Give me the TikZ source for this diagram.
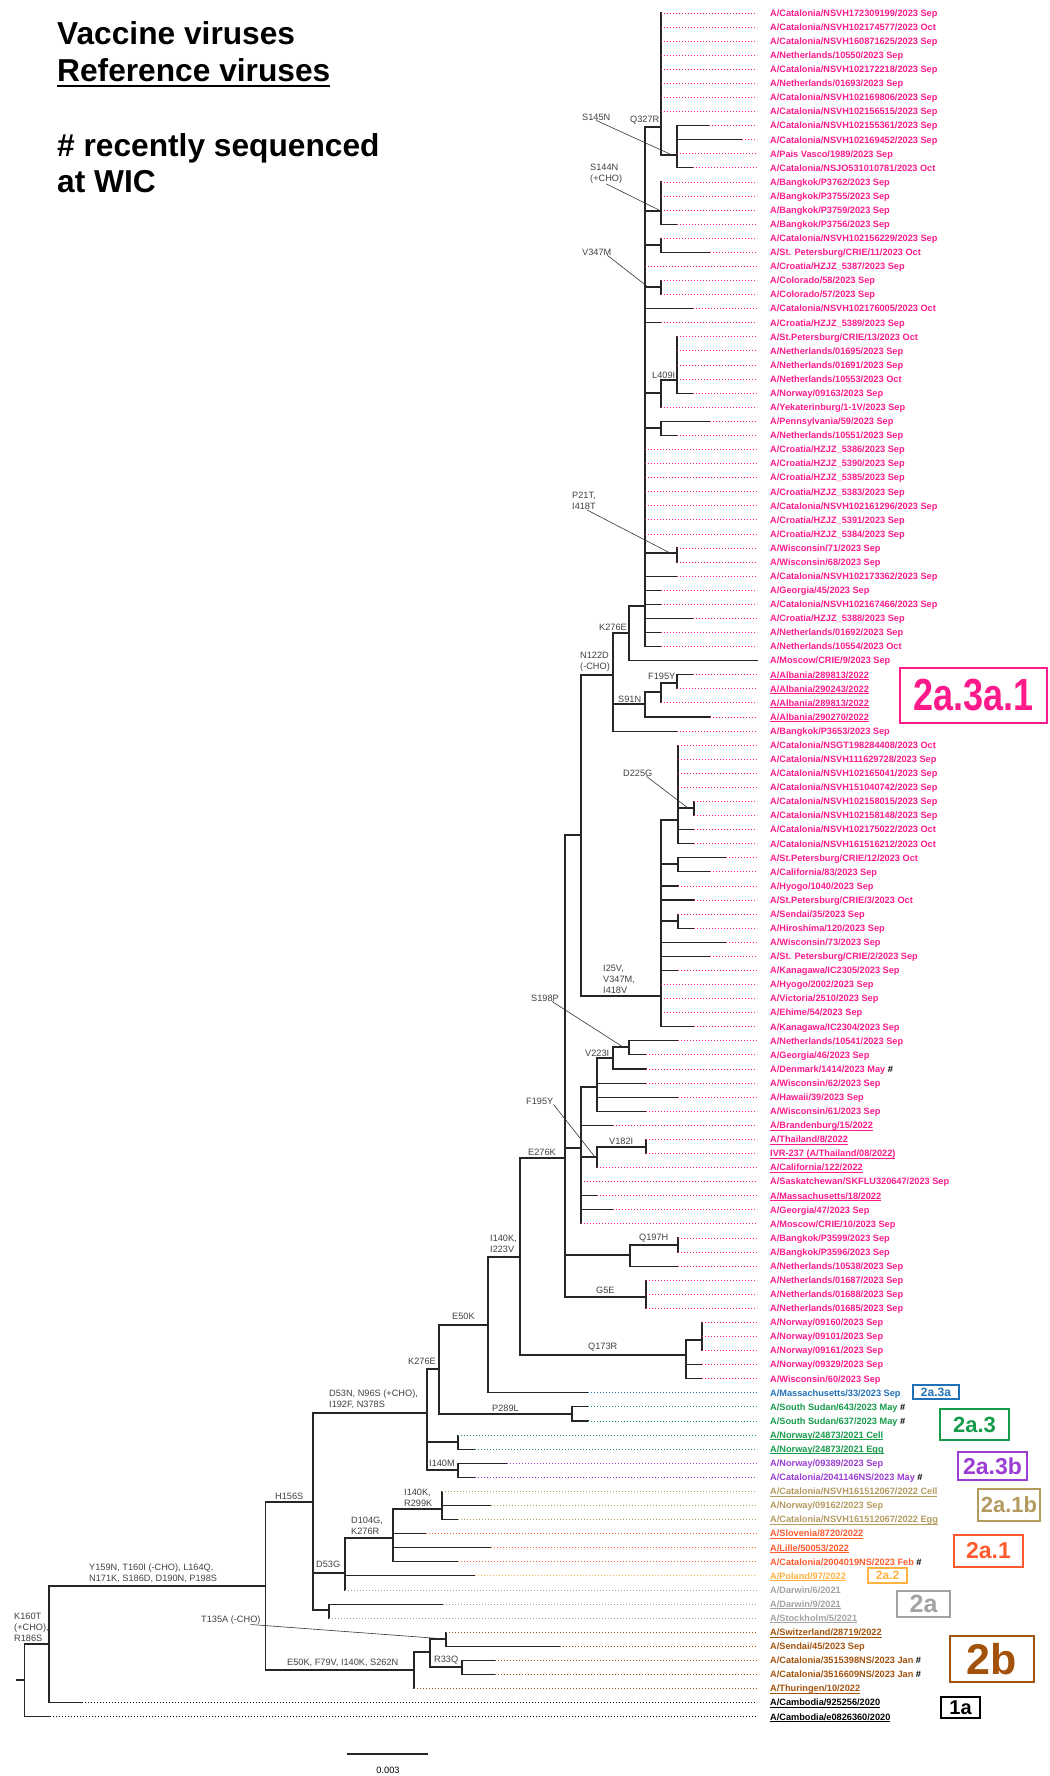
\documentclass[tikz,border=0pt]{standalone}
\usepackage{fontspec}
\usepackage{graphicx}
\setmainfont{Liberation Sans}

\definecolor{pinkc}{HTML}{FF1A8C}
\definecolor{bluec}{HTML}{2271B8}
\definecolor{greenc}{HTML}{169B4B}
\definecolor{purplec}{HTML}{9B3CD2}
\definecolor{tanc}{HTML}{B49A5F}
\definecolor{orangec}{HTML}{FF5A2D}
\definecolor{yellowc}{HTML}{FFB23F}
\definecolor{grayc}{HTML}{A2A2A2}
\definecolor{brownc}{HTML}{A3520C}

\tikzset{
  branch/.style={line width=1.1pt,black!85,line cap=rect},
  tipdots/.style={line width=0.9pt,dash pattern=on 0.9pt off 2.1pt},
  leader/.style={line width=0.6pt,black!80},
  leaf/.style={font=\fontsize{9.2}{9.2}\selectfont\bfseries,inner sep=0pt,anchor=base west},
  mut/.style={font=\fontsize{9.2}{11}\selectfont,text=black!75,inner sep=0pt,anchor=west,align=left},
  title/.style={font=\fontsize{31.7}{32}\selectfont\bfseries,inner sep=0pt,anchor=base west},
  clade/.style={draw,line width=2pt,inner sep=0pt,font=\bfseries},
  cpk/.style={color=pinkc}, cbl/.style={color=bluec}, cgn/.style={color=greenc},
  cpu/.style={color=purplec}, ctn/.style={color=tanc}, cor/.style={color=orangec},
  cyl/.style={color=yellowc}, cgy/.style={color=grayc}, cbr/.style={color=brownc},
  cbk/.style={color=black}
}

\newcommand\refv[1]{\setbox0\hbox{#1}\rlap{\copy0}\rule[-1.8pt]{\wd0}{0.8pt}}
\newcommand\titleul[1]{\setbox0\hbox{#1}\rlap{\copy0}\rule[-5.5pt]{\wd0}{2pt}}
\newcommand\wic{\textcolor{black}{\#}}
\newcommand\lf[5]{%
  \node[leaf,#4] (l#1) at (770,{13+(#1-1)*14.08+3.3}) {#5};
  \coordinate (t#1) at (#3,{13+(#1-1)*14.08});
  \draw[branch] (#2) |- (t#1);
  \draw[tipdots,#4] (t#1) -- ([xshift=-13pt,yshift=3.3pt]l#1.base west);
}

\begin{document}
\begin{tikzpicture}[x=1pt,y=-1pt]
\useasboundingbox (0,0) rectangle (1049,1776);

\node[title] (tVac) at (57,45) {Vaccine viruses};
\node[title] (tRef) at (57,82) {\titleul{Reference viruses}};
\node[title] (tRec) at (57,157) {\# recently sequenced};
\node[title] (tWic) at (57,193) {at WIC};

\coordinate (nStub) at (17,1680);
\coordinate (nRoot) at (24.5,1680);
\coordinate (nK160T) at (49,1644);
\coordinate (nB) at (265.6,1586);
\coordinate (nH156S) at (313,1502);
\coordinate (n2b) at (414,1670);
\coordinate (n2bA) at (430,1652);
\coordinate (nSw) at (446,1639);
\coordinate (nR33Q) at (462,1667);
\coordinate (n2a) at (329,1610);
\coordinate (nD53G) at (345,1573);
\coordinate (nD104G) at (393,1538);
\coordinate (nI140Kb) at (442,1509);
\coordinate (nD) at (427,1413);
\coordinate (nNor) at (458,1442);
\coordinate (nI140M) at (458,1470);
\coordinate (nE) at (439,1369);
\coordinate (nSS) at (572,1414);
\coordinate (nE50K) at (488,1325);
\coordinate (nI140K) at (520,1257);
\coordinate (nQ173R) at (686,1355);
\coordinate (nQ173a) at (702,1340);
\coordinate (nE276K) at (565,1158);
\coordinate (nG5E) at (646,1297);
\coordinate (nQ197) at (630,1255);
\coordinate (nQ197H) at (678,1245);
\coordinate (nR) at (581,1148);
\coordinate (nT) at (597,1087);
\coordinate (nV223I) at (613,1058);
\coordinate (nS198P) at (629,1047);
\coordinate (nF195Yb) at (597,1157);
\coordinate (nV182I) at (646,1147);
\coordinate (nN122Dp) at (581,835);
\coordinate (nI25V) at (661,996);
\coordinate (nD225Gp) at (678,820);
\coordinate (nD225G) at (694,808);
\coordinate (nB61) at (678,864);
\coordinate (nB65) at (678,921);
\coordinate (nN122D) at (613,675);
\coordinate (nS91N) at (645,704);
\coordinate (nF195Yp) at (661,692);
\coordinate (nF195Y) at (677,683);
\coordinate (nK276Eb) at (629,633);
\coordinate (nP) at (645,606);
\coordinate (nQ327R) at (661,127);
\coordinate (nS145N) at (677,155);
\coordinate (nS144N) at (661,211);
\coordinate (nB17) at (661,245);
\coordinate (nV347M) at (661,287);
\coordinate (nL409Ip) at (661,393);
\coordinate (nL409I) at (677,380);
\coordinate (nB30) at (661,428);
\coordinate (nP21T) at (677,553);

\draw[branch] (nStub) -- (nRoot);
\draw[branch] (nRoot) |- (nK160T);
\draw[branch] (nK160T) |- (nB);
\draw[branch] (nB) |- (nH156S);
\draw[branch] (nB) |- (n2b);
\draw[branch] (n2b) |- (n2bA);
\draw[branch] (n2bA) |- (nSw);
\draw[branch] (n2bA) |- (nR33Q);
\draw[branch] (nH156S) |- (nD);
\draw[branch] (nH156S) |- (nD53G);
\draw[branch] (nH156S) |- (n2a);
\draw[branch] (nD53G) |- (nD104G);
\draw[branch] (nD104G) |- (nI140Kb);
\draw[branch] (nD) |- (nE);
\draw[branch] (nD) |- (nNor);
\draw[branch] (nD) |- (nI140M);
\draw[branch] (nE) |- (nE50K);
\draw[branch] (nE) |- (nSS);
\draw[branch] (nE50K) |- (nI140K);
\draw[branch] (nI140K) |- (nE276K);
\draw[branch] (nI140K) |- (nQ173R);
\draw[branch] (nQ173R) |- (nQ173a);
\draw[branch] (nE276K) |- (nN122Dp);
\draw[branch] (nE276K) |- (nR);
\draw[branch] (nE276K) |- (nQ197);
\draw[branch] (nE276K) |- (nG5E);
\draw[branch] (nQ197) |- (nQ197H);
\draw[branch] (nR) |- (nT);
\draw[branch] (nR) |- (nF195Yb);
\draw[branch] (nT) |- (nV223I);
\draw[branch] (nV223I) |- (nS198P);
\draw[branch] (nF195Yb) |- (nV182I);
\draw[branch] (nN122Dp) |- (nN122D);
\draw[branch] (nN122Dp) |- (nI25V);
\draw[branch] (nI25V) |- (nD225Gp);
\draw[branch] (nI25V) |- (nB61);
\draw[branch] (nI25V) |- (nB65);
\draw[branch] (nD225Gp) |- (nD225G);
\draw[branch] (nN122D) |- (nK276Eb);
\draw[branch] (nN122D) |- (nS91N);
\draw[branch] (nS91N) |- (nF195Yp);
\draw[branch] (nF195Yp) |- (nF195Y);
\draw[branch] (nK276Eb) |- (nP);
\draw[branch] (nP) |- (nQ327R);
\draw[branch] (nP) |- (nS144N);
\draw[branch] (nP) |- (nB17);
\draw[branch] (nP) |- (nV347M);
\draw[branch] (nP) |- (nL409Ip);
\draw[branch] (nP) |- (nB30);
\draw[branch] (nP) |- (nP21T);
\draw[branch] (nQ327R) |- (nS145N);
\draw[branch] (nL409Ip) |- (nL409I);

\lf{1}{nQ327R}{661}{cpk}{A/Catalonia/NSVH172309199/2023 Sep}
\lf{2}{nQ327R}{661}{cpk}{A/Catalonia/NSVH102174577/2023 Oct}
\lf{3}{nQ327R}{661}{cpk}{A/Catalonia/NSVH160871625/2023 Sep}
\lf{4}{nQ327R}{661}{cpk}{A/Netherlands/10550/2023 Sep}
\lf{5}{nQ327R}{661}{cpk}{A/Catalonia/NSVH102172218/2023 Sep}
\lf{6}{nQ327R}{661}{cpk}{A/Netherlands/01693/2023 Sep}
\lf{7}{nQ327R}{661}{cpk}{A/Catalonia/NSVH102169806/2023 Sep}
\lf{8}{nQ327R}{661}{cpk}{A/Catalonia/NSVH102156515/2023 Sep}
\lf{9}{nS145N}{709}{cpk}{A/Catalonia/NSVH102155361/2023 Sep}
\lf{10}{nS145N}{742}{cpk}{A/Catalonia/NSVH102169452/2023 Sep}
\lf{11}{nS145N}{677}{cpk}{A/Pais Vasco/1989/2023 Sep}
\lf{12}{nS145N}{693}{cpk}{A/Catalonia/NSJO531010781/2023 Oct}
\lf{13}{nS144N}{661}{cpk}{A/Bangkok/P3762/2023 Sep}
\lf{14}{nS144N}{661}{cpk}{A/Bangkok/P3755/2023 Sep}
\lf{15}{nS144N}{661}{cpk}{A/Bangkok/P3759/2023 Sep}
\lf{16}{nS144N}{677}{cpk}{A/Bangkok/P3756/2023 Sep}
\lf{17}{nB17}{661}{cpk}{A/Catalonia/NSVH102156229/2023 Sep}
\lf{18}{nB17}{710}{cpk}{A/St. Petersburg/CRIE/11/2023 Oct}
\lf{19}{nP}{645}{cpk}{A/Croatia/HZJZ\_5387/2023 Sep}
\lf{20}{nV347M}{661}{cpk}{A/Colorado/58/2023 Sep}
\lf{21}{nV347M}{661}{cpk}{A/Colorado/57/2023 Sep}
\lf{22}{nP}{693}{cpk}{A/Catalonia/NSVH102176005/2023 Oct}
\lf{23}{nP}{661}{cpk}{A/Croatia/HZJZ\_5389/2023 Sep}
\lf{24}{nL409I}{677}{cpk}{A/St.Petersburg/CRIE/13/2023 Oct}
\lf{25}{nL409I}{677}{cpk}{A/Netherlands/01695/2023 Sep}
\lf{26}{nL409I}{677}{cpk}{A/Netherlands/01691/2023 Sep}
\lf{27}{nL409I}{677}{cpk}{A/Netherlands/10553/2023 Oct}
\lf{28}{nL409I}{693}{cpk}{A/Norway/09163/2023 Sep}
\lf{29}{nL409Ip}{661}{cpk}{A/Yekaterinburg/1-1V/2023 Sep}
\lf{30}{nB30}{710}{cpk}{A/Pennsylvania/59/2023 Sep}
\lf{31}{nB30}{677}{cpk}{A/Netherlands/10551/2023 Sep}
\lf{32}{nP}{645}{cpk}{A/Croatia/HZJZ\_5386/2023 Sep}
\lf{33}{nP}{645}{cpk}{A/Croatia/HZJZ\_5390/2023 Sep}
\lf{34}{nP}{645}{cpk}{A/Croatia/HZJZ\_5385/2023 Sep}
\lf{35}{nP}{645}{cpk}{A/Croatia/HZJZ\_5383/2023 Sep}
\lf{36}{nP}{645}{cpk}{A/Catalonia/NSVH102161296/2023 Sep}
\lf{37}{nP}{645}{cpk}{A/Croatia/HZJZ\_5391/2023 Sep}
\lf{38}{nP}{645}{cpk}{A/Croatia/HZJZ\_5384/2023 Sep}
\lf{39}{nP21T}{677}{cpk}{A/Wisconsin/71/2023 Sep}
\lf{40}{nP21T}{677}{cpk}{A/Wisconsin/68/2023 Sep}
\lf{41}{nP}{677}{cpk}{A/Catalonia/NSVH102173362/2023 Sep}
\lf{42}{nP}{661}{cpk}{A/Georgia/45/2023 Sep}
\lf{43}{nP}{661}{cpk}{A/Catalonia/NSVH102167466/2023 Sep}
\lf{44}{nP}{693}{cpk}{A/Croatia/HZJZ\_5388/2023 Sep}
\lf{45}{nP}{661}{cpk}{A/Netherlands/01692/2023 Sep}
\lf{46}{nP}{661}{cpk}{A/Netherlands/10554/2023 Oct}
\lf{47}{nK276Eb}{757}{cpk}{A/Moscow/CRIE/9/2023 Sep}
\lf{48}{nF195Y}{693}{cpk}{\refv{A/Albania/289813/2022}}
\lf{49}{nF195Y}{677}{cpk}{\refv{A/Albania/290243/2022}}
\lf{50}{nF195Yp}{661}{cpk}{\refv{A/Albania/289813/2022}}
\lf{51}{nS91N}{710}{cpk}{\refv{A/Albania/290270/2022}}
\lf{52}{nN122D}{677}{cpk}{A/Bangkok/P3653/2023 Sep}
\lf{53}{nD225Gp}{678}{cpk}{A/Catalonia/NSGT198284408/2023 Oct}
\lf{54}{nD225Gp}{678}{cpk}{A/Catalonia/NSVH111629728/2023 Sep}
\lf{55}{nD225Gp}{678}{cpk}{A/Catalonia/NSVH102165041/2023 Sep}
\lf{56}{nD225Gp}{678}{cpk}{A/Catalonia/NSVH151040742/2023 Sep}
\lf{57}{nD225G}{694}{cpk}{A/Catalonia/NSVH102158015/2023 Sep}
\lf{58}{nD225G}{694}{cpk}{A/Catalonia/NSVH102158148/2023 Sep}
\lf{59}{nD225Gp}{694}{cpk}{A/Catalonia/NSVH102175022/2023 Oct}
\lf{60}{nD225Gp}{694}{cpk}{A/Catalonia/NSVH161516212/2023 Oct}
\lf{61}{nB61}{726}{cpk}{A/St.Petersburg/CRIE/12/2023 Oct}
\lf{62}{nB61}{710}{cpk}{A/California/83/2023 Sep}
\lf{63}{nI25V}{678}{cpk}{A/Hyogo/1040/2023 Sep}
\lf{64}{nI25V}{694}{cpk}{A/St.Petersburg/CRIE/3/2023 Oct}
\lf{65}{nB65}{678}{cpk}{A/Sendai/35/2023 Sep}
\lf{66}{nB65}{694}{cpk}{A/Hiroshima/120/2023 Sep}
\lf{67}{nI25V}{726}{cpk}{A/Wisconsin/73/2023 Sep}
\lf{68}{nI25V}{710}{cpk}{A/St. Petersburg/CRIE/2/2023 Sep}
\lf{69}{nI25V}{678}{cpk}{A/Kanagawa/IC2305/2023 Sep}
\lf{70}{nI25V}{661}{cpk}{A/Hyogo/2002/2023 Sep}
\lf{71}{nI25V}{661}{cpk}{A/Victoria/2510/2023 Sep}
\lf{72}{nI25V}{661}{cpk}{A/Ehime/54/2023 Sep}
\lf{73}{nI25V}{694}{cpk}{A/Kanagawa/IC2304/2023 Sep}
\lf{74}{nS198P}{678}{cpk}{A/Netherlands/10541/2023 Sep}
\lf{75}{nS198P}{646}{cpk}{A/Georgia/46/2023 Sep}
\lf{76}{nV223I}{646}{cpk}{A/Denmark/1414/2023 May \wic}
\lf{77}{nT}{646}{cpk}{A/Wisconsin/62/2023 Sep}
\lf{78}{nT}{678}{cpk}{A/Hawaii/39/2023 Sep}
\lf{79}{nT}{646}{cpk}{A/Wisconsin/61/2023 Sep}
\lf{80}{nR}{613}{cpk}{\refv{A/Brandenburg/15/2022}}
\lf{81}{nV182I}{646}{cpk}{\refv{A/Thailand/8/2022}}
\lf{82}{nV182I}{646}{cpk}{\refv{IVR-237 (A/Thailand/08/2022)}}
\lf{83}{nF195Yb}{597}{cpk}{\refv{A/California/122/2022}}
\lf{84}{nR}{581}{cpk}{A/Saskatchewan/SKFLU320647/2023 Sep}
\lf{85}{nR}{597}{cpk}{\refv{A/Massachusetts/18/2022}}
\lf{86}{nR}{613}{cpk}{A/Georgia/47/2023 Sep}
\lf{87}{nR}{581}{cpk}{A/Moscow/CRIE/10/2023 Sep}
\lf{88}{nQ197H}{678}{cpk}{A/Bangkok/P3599/2023 Sep}
\lf{89}{nQ197H}{678}{cpk}{A/Bangkok/P3596/2023 Sep}
\lf{90}{nQ197}{678}{cpk}{A/Netherlands/10538/2023 Sep}
\lf{91}{nG5E}{646}{cpk}{A/Netherlands/01687/2023 Sep}
\lf{92}{nG5E}{646}{cpk}{A/Netherlands/01688/2023 Sep}
\lf{93}{nG5E}{646}{cpk}{A/Netherlands/01685/2023 Sep}
\lf{94}{nQ173a}{702}{cpk}{A/Norway/09160/2023 Sep}
\lf{95}{nQ173a}{702}{cpk}{A/Norway/09101/2023 Sep}
\lf{96}{nQ173a}{702}{cpk}{A/Norway/09161/2023 Sep}
\lf{97}{nQ173R}{702}{cpk}{A/Norway/09329/2023 Sep}
\lf{98}{nQ173R}{702}{cpk}{A/Wisconsin/60/2023 Sep}
\lf{99}{nE50K}{588}{cbl}{A/Massachusetts/33/2023 Sep}
\lf{100}{nSS}{588}{cgn}{A/South Sudan/643/2023 May \wic}
\lf{101}{nSS}{588}{cgn}{A/South Sudan/637/2023 May \wic}
\lf{102}{nNor}{458}{cgn}{\refv{A/Norway/24873/2021 Cell}}
\lf{103}{nNor}{475}{cgn}{\refv{A/Norway/24873/2021 Egg}}
\lf{104}{nI140M}{507}{cpu}{A/Norway/09389/2023 Sep}
\lf{105}{nI140M}{475}{cpu}{A/Catalonia/2041146NS/2023 May \wic}
\lf{106}{nI140Kb}{442}{ctn}{\refv{A/Catalonia/NSVH161512067/2022 Cell}}
\lf{107}{nI140Kb}{491}{ctn}{A/Norway/09162/2023 Sep}
\lf{108}{nI140Kb}{458}{ctn}{\refv{A/Catalonia/NSVH161512067/2022 Egg}}
\lf{109}{nD104G}{426}{cor}{\refv{A/Slovenia/8720/2022}}
\lf{110}{nD104G}{491}{cor}{\refv{A/Lille/50053/2022}}
\lf{111}{nD104G}{458}{cor}{A/Catalonia/2004019NS/2023 Feb \wic}
\lf{112}{nD53G}{475}{cyl}{\refv{A/Poland/97/2022}}
\lf{113}{nD53G}{345}{cgy}{A/Darwin/6/2021}
\lf{114}{n2a}{443}{cgy}{\refv{A/Darwin/9/2021}}
\lf{115}{n2a}{329}{cgy}{\refv{A/Stockholm/5/2021}}
\lf{116}{nSw}{446}{cbr}{\refv{A/Switzerland/28719/2022}}
\lf{117}{nSw}{560}{cbr}{A/Sendai/45/2023 Sep}
\lf{118}{nR33Q}{495}{cbr}{A/Catalonia/3515398NS/2023 Jan \wic}
\lf{119}{nR33Q}{495}{cbr}{A/Catalonia/3516609NS/2023 Jan \wic}
\lf{120}{n2b}{414}{cbr}{\refv{A/Thuringen/10/2022}}
\lf{121}{nK160T}{82}{cbk}{\refv{A/Cambodia/925256/2020}}
\lf{122}{nRoot}{50}{cbk}{\refv{A/Cambodia/e0826360/2020}}

\node[mut] (mS145N) at (582,117) {S145N};
\node[mut] (mQ327R) at (630,120) {Q327R};
\node[mut] (mS144N) at (590,174) {S144N\\(+CHO)};
\node[mut] (mV347M) at (582,252) {V347M};
\node[mut] (mL409I) at (652,375) {L409I};
\node[mut] (mP21T) at (572,501) {P21T,\\I418T};
\node[mut] (mK276Eb) at (599,627) {K276E};
\node[mut] (mN122D) at (580,662) {N122D\\(-CHO)};
\node[mut] (mF195Y) at (648,676) {F195Y};
\node[mut] (mS91N) at (618,699) {S91N};
\node[mut] (mD225G) at (623,773) {D225G};
\node[mut] (mI25V) at (603,979) {I25V,\\V347M,\\I418V};
\node[mut] (mS198P) at (531,998) {S198P};
\node[mut] (mV223I) at (585,1053) {V223I};
\node[mut] (mF195Yb) at (526,1101) {F195Y};
\node[mut] (mV182I) at (609,1141) {V182I};
\node[mut] (mE276K) at (528,1152) {E276K};
\node[mut] (mI140K) at (490,1243.5) {I140K,\\I223V};
\node[mut] (mQ197H) at (639,1238) {Q197H};
\node[mut] (mG5E) at (596,1290) {G5E};
\node[mut] (mE50K) at (452,1316) {E50K};
\node[mut] (mQ173R) at (588,1347) {Q173R};
\node[mut] (mK276E) at (408,1361) {K276E};
\node[mut] (mD53N) at (329,1399) {D53N, N96S (+CHO),\\I192F, N378S};
\node[mut] (mP289L) at (492,1408) {P289L};
\node[mut] (mI140M) at (429,1463) {I140M};
\node[mut] (mH156S) at (275,1496) {H156S};
\node[mut] (mI140Kb) at (404,1497.5) {I140K,\\R299K};
\node[mut] (mD104G) at (351,1525.5) {D104G,\\K276R};
\node[mut] (mD53G) at (316,1564) {D53G};
\node[mut] (mY159N) at (89,1573.5) {Y159N, T160I (-CHO), L164Q,\\N171K, S186D, D190N, P198S};
\node[mut] (mK160T) at (14,1627.7) {K160T\\(+CHO),\\R186S};
\node[mut] (mT135A) at (201,1620) {T135A (-CHO)};
\node[mut] (mR33Q) at (434,1660) {R33Q};
\node[mut] (mE50Kb) at (287,1663) {E50K, F79V, I140K, S262N};

\draw[leader] (mS145N.south) -- ([xshift=-5pt]nS145N);
\draw[leader] (mS144N.south) -- (nS144N);
\draw[leader] ([xshift=-4pt]mV347M.south east) -- ([xshift=-13pt]nV347M);
\draw[leader] ([xshift=3pt]mP21T.south) -- ([xshift=-7pt]nP21T);
\draw[leader] ([xshift=-6pt]mD225G.south east) -- ([xshift=-6pt]nD225G);
\draw[leader] ([xshift=-7pt]mS198P.south east) -- ([xshift=-6pt]nS198P);
\draw[leader] (mF195Yb.south east) -- ([xshift=-2pt]nF195Yb);
\draw[leader] ([xshift=-10pt]mT135A.south east) -- (nSw);

\node[clade,cpk,line width=2.6pt,minimum width=147pt,minimum height=55pt] (k2a3a1) at (973.5,695.5) {\scalebox{0.8}[1]{\fontsize{45}{45}\selectfont 2a.3a.1}};
\node[clade,cbl,minimum width=46pt,minimum height=14pt] (k2a3a) at (936,1392) {\fontsize{12}{12}\selectfont 2a.3a};
\node[clade,cgn,minimum width=69pt,minimum height=31pt] (k2a3) at (974.5,1424.5) {\fontsize{22}{22}\selectfont 2a.3};
\node[clade,cpu,minimum width=69pt,minimum height=28pt] (k2a3b) at (992.5,1466) {\fontsize{23}{23}\selectfont 2a.3b};
\node[clade,ctn,minimum width=62pt,minimum height=32pt] (k2a1b) at (1009,1505) {\fontsize{22}{22}\selectfont 2a.1b};
\node[clade,cor,minimum width=69pt,minimum height=32pt] (k2a1) at (988.5,1551) {\fontsize{23}{23}\selectfont 2a.1};
\node[clade,cyl,minimum width=39pt,minimum height=15pt] (k2a2) at (887.5,1575.5) {\fontsize{12}{12}\selectfont 2a.2};
\node[clade,cgy,minimum width=53pt,minimum height=26pt] (k2a) at (923.5,1604) {\fontsize{25}{25}\selectfont 2a};
\node[clade,cbr,minimum width=84pt,minimum height=46pt] (k2b) at (992,1659) {\fontsize{43}{43}\selectfont 2b};
\node[clade,cbk,minimum width=39pt,minimum height=21pt] (k1a) at (960.5,1707.5) {\fontsize{20}{20}\selectfont 1a};

\coordinate (sbL) at (348,1754);
\coordinate (sbR) at (427,1754);
\draw[branch] (sbL) -- (sbR);
\node[font=\fontsize{9.2}{9.2}\selectfont,inner sep=0pt] (sbLab) at (388,1770) {0.003};
\end{tikzpicture}
\end{document}
